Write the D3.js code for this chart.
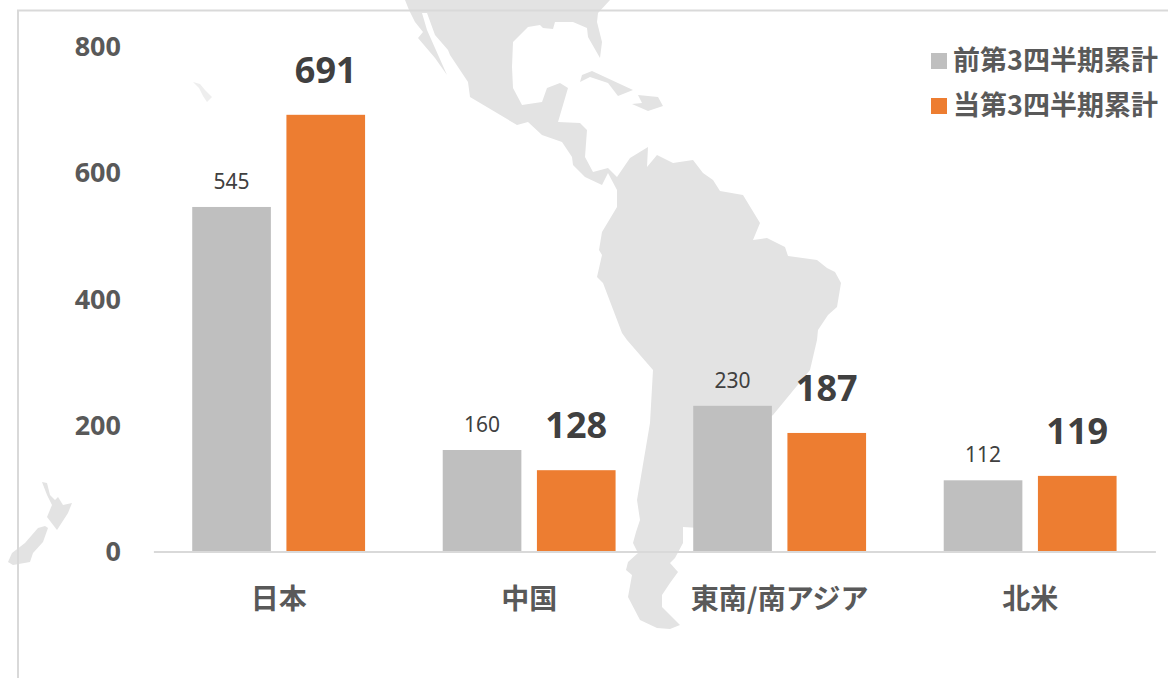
<!DOCTYPE html>
<html lang="ja">
<head>
<meta charset="UTF-8">
<script src="https://d3js.org/d3.v7.min.js"></script>
<title>地域別 第3四半期累計</title>
<style>
    html, body { margin: 0; background: #fff; }
    svg { display: block; }
    text { font-family: "Noto Sans", "Noto Sans CJK JP", sans-serif; }
    .cjk text { font-family: "Noto Sans CJK JP", sans-serif; font-weight: 700; }
</style>
</head>
<body>
<svg width="1168" height="678"></svg>
<script>
    const categories = ["日本", "中国", "東南/南アジア", "北米"];
    const seriesNames = ["前第3四半期累計", "当第3四半期累計"];
    const prevValues = [545, 160, 230, 112];
    const currValues = [691, 128, 187, 119];
    const yTicks = [0, 200, 400, 600, 800];

    const colors = ["#bfbfbf", "#ed7d31"];

    // background map (decoration only)
    const americas = [[610,0],[598,13],[597,22],[602,42],[600,58],[588,37],[587,28],[573,22],[555,22],[553,29],[543,28],[540,25],[528,27],[513,42],[512,67],[513,88],[522,105],[542,102],[547,88],[560,83],[568,88],[558,122],[580,123],[587,130],[585,157],[593,172],[608,168],[617,177],[630,158],[648,147],[647,167],[657,155],[673,163],[693,160],[703,173],[713,180],[720,191],[743,195],[760,223],[753,240],[767,238],[785,247],[788,256],[817,260],[827,268],[835,272],[841,283],[837,307],[828,315],[818,330],[817,340],[810,370],[773,415],[740,440],[700,528],[683,527],[683,543],[675,558],[670,563],[678,572],[670,583],[662,595],[662,607],[680,625],[670,629],[657,628],[640,620],[628,597],[632,575],[626,570],[628,562],[638,553],[633,543],[636,532],[640,520],[637,500],[650,423],[653,370],[627,340],[622,333],[603,283],[597,277],[602,255],[599,250],[602,232],[617,207],[617,190],[608,173],[602,185],[585,177],[573,165],[572,157],[562,142],[542,135],[528,122],[517,125],[470,97],[468,82],[450,55],[448,50],[435,35],[427,13],[422,13],[427,30],[435,48],[447,75],[435,58],[418,38],[423,32],[415,22],[409,10],[405,0]];
    const cuba = [[580,82],[582,75],[592,71],[633,90],[618,96],[608,83],[590,77]];
    const hispaniola = [[638,95],[658,97],[663,106],[648,111],[632,104],[642,103]];
    const nzNorth = [[42,482],[47,483],[50,495],[55,500],[58,497],[63,505],[72,503],[68,513],[57,530],[47,517],[52,505],[47,495]];
    const nzSouth = [[48,528],[43,542],[33,553],[30,562],[13,565],[8,562],[12,553],[25,543],[38,528],[45,526]];
    const hawaii = [[193,82],[200,84],[205,90],[212,97],[207,102],[203,96],[199,88]];

    const svg = d3.select("svg");

    const x0 = d3.scaleBand().domain(categories).range([153.4, 1155.4]).paddingInner(0.31).paddingOuter(0.155);
    const x1 = d3.scaleBand().domain([0, 1]).range([0, x0.bandwidth()]).paddingInner(0.165);
    const y = d3.scaleLinear().domain([0, 800]).range([551, 46]);

    const outline = d3.line().curve(d3.curveLinearClosed);
    const mapG = svg.append("g").attr("fill", "#e3e3e3");
    [americas, cuba, hispaniola, nzNorth, nzSouth].forEach(s => mapG.append("path").attr("d", outline(s)));
    mapG.append("path").attr("d", outline(hawaii)).attr("fill", "#eeeeee");

    // frame around the chart area, top and left only
    svg.append("path")
        .attr("d", "M18,678V10.5H1168")
        .attr("fill", "none")
        .attr("stroke", "#d9d9d9")
        .attr("stroke-width", 2);

    const xAxisG = svg.append("g")
        .attr("class", "cjk")
        .attr("transform", "translate(0,551.5)")
        .call(d3.axisBottom(x0).tickSize(0).tickPadding(0).tickSizeOuter(0));
    xAxisG.select(".domain").attr("stroke", "#d9d9d9").attr("stroke-width", 2);
    xAxisG.selectAll("text")
        .attr("dy", null)
        .attr("y", 57)
        .attr("font-size", 28)
        .attr("fill", "#595959");

    const yAxisG = svg.append("g")
        .attr("transform", "translate(121,0)")
        .call(d3.axisLeft(y).tickValues(yTicks).tickSize(0).tickPadding(0));
    yAxisG.select(".domain").remove();
    yAxisG.selectAll("text")
        .attr("font-size", 27)
        .attr("font-weight", 700)
        .attr("fill", "#595959")
        .attr("dy", "0.36em");

    [prevValues, currValues].forEach((vals, s) => {
        const g = svg.append("g");
        g.selectAll("rect")
            .data(vals)
            .enter()
            .append("rect")
            .attr("x", (d, i) => x0(categories[i]) + x1(s))
            .attr("y", d => y(d))
            .attr("width", x1.bandwidth())
            .attr("height", d => y(0) - y(d))
            .attr("fill", colors[s]);
        g.selectAll("text")
            .data(vals)
            .enter()
            .append("text")
            .attr("x", (d, i) => x0(categories[i]) + x1(s) + x1.bandwidth() / 2)
            .attr("y", d => y(d) - (s ? 32 : 18))
            .attr("text-anchor", "middle")
            .attr("font-size", s ? 36 : 21)
            .attr("font-weight", s ? 700 : 400)
            .attr("fill", "#404040")
            .text(d => d);
    });

    const legend = svg.append("g").attr("class", "cjk");
    seriesNames.forEach((name, i) => {
        const row = legend.append("g").attr("transform", `translate(931,${53 + i * 45})`);
        row.append("rect").attr("width", 16).attr("height", 16).attr("fill", colors[i]);
        row.append("text")
            .attr("x", 22)
            .attr("y", 17)
            .attr("font-size", 27)
            .attr("fill", "#595959")
            .text(name);
    });
</script>
</body>
</html>
